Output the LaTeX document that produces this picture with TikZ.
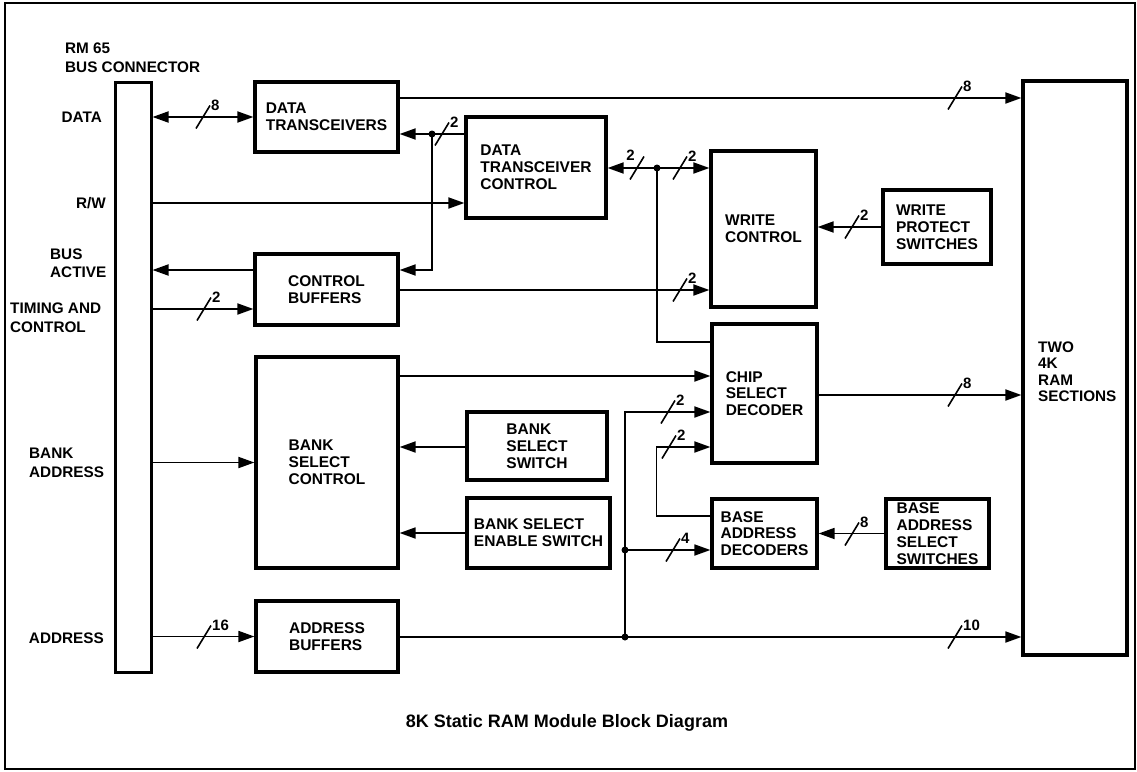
\documentclass[tikz,border=0pt]{standalone}
\usepackage{fontspec}
\setmainfont{Liberation Sans}
\usetikzlibrary{arrows.meta}
\begin{document}
\begin{tikzpicture}[x=1pt,y=-1pt,
  box/.style={draw, line width=3.2pt, inner sep=0pt, align=left,
    font=\bfseries\fontsize{15.5}{16.8}\selectfont},
  wire/.style={line width=1.8pt},
  arr/.style={wire, -{Triangle[length=16pt,width=11pt]}},
  both/.style={wire, {Triangle[length=16pt,width=11pt]}-{Triangle[length=16pt,width=11pt]}},
  lbl/.style={inner sep=0pt, align=left, font=\bfseries\fontsize{15.3}{18.5}\selectfont},
  jdot/.style={circle, fill, inner sep=0pt, minimum size=7pt},
  bw/.pic={\draw[line width=1.6pt] (-7,11.5) -- (7,-11.5);
    \node[anchor=west, inner sep=0pt, font=\bfseries\fontsize{15}{15}\selectfont] at (8,-12) {#1};},
  bwl/.pic={\draw[line width=1.6pt] (-7,11.5) -- (7,-11.5);
    \node[anchor=east, inner sep=0pt, font=\bfseries\fontsize{15}{15}\selectfont] at (-2,-13) {#1};}
]
\useasboundingbox (0,0) rectangle (1137,771);
\draw[line width=2pt] (5,3) rectangle (1135,769);

% blocks
\node[box, line width=3pt, minimum width=36pt, minimum height=590pt] (bus) at (133,377) {};
\node[box, minimum width=143pt, minimum height=70pt] (dt) at (326.5,117) {DATA\\TRANSCEIVERS};
\node[box, minimum width=140pt, minimum height=101pt] (dtc) at (536,167.5) {DATA\\TRANSCEIVER\\CONTROL};
\node[box, minimum width=105pt, minimum height=156pt] (wc) at (763.5,229) {WRITE\\CONTROL};
\node[box, minimum width=108pt, minimum height=74pt] (wps) at (937,227) {WRITE\\PROTECT\\SWITCHES};
\node[box, minimum width=143pt, minimum height=71pt] (cb) at (326.5,289.5) {CONTROL\\BUFFERS};
\node[box, minimum width=142pt, minimum height=211pt] (bsc) at (327,462.5) {BANK\\SELECT\\CONTROL};
\node[box, minimum width=140pt, minimum height=68pt] (bss) at (537,446) {BANK\\SELECT\\SWITCH};
\node[box, minimum width=143pt, minimum height=70pt] (bses) at (538.5,533) {BANK SELECT\\ENABLE SWITCH};
\node[box, minimum width=105pt, minimum height=139pt] (csd) at (764.5,393.5) {CHIP\\SELECT\\DECODER};
\node[box, minimum width=105pt, minimum height=69pt] (bad) at (764.5,533.5) {BASE\\ADDRESS\\DECODERS};
\node[box, minimum width=103pt, minimum height=69pt] (bass) at (937.5,533.5) {BASE\\ADDRESS\\SELECT\\SWITCHES};
\node[box, minimum width=142pt, minimum height=71pt] (ab) at (327,636.5) {ADDRESS\\BUFFERS};
\node[box, minimum width=104pt, minimum height=574pt] (ram) at (1075,368) {};

% labels
\node[lbl, anchor=west] (lrm) at (65,57.5) {RM 65\\BUS CONNECTOR};
\node[lbl, anchor=east] (ldata) at (102,117) {DATA};
\node[lbl, anchor=east] (lrw) at (106,203) {R/W};
\node[lbl, anchor=west] (lba) at (50,263) {BUS\\ACTIVE};
\node[lbl, anchor=west] (ltc) at (10,317.5) {TIMING AND\\CONTROL};
\node[lbl, anchor=west] (lbank) at (29,463) {BANK\\ADDRESS};
\node[lbl, anchor=east] (laddr) at (104,638) {ADDRESS};
\node[lbl, anchor=west, font=\bfseries\fontsize{15.3}{16.5}\selectfont] (lram) at (1038,371.5) {TWO\\4K\\RAM\\SECTIONS};
\node[inner sep=0pt, font=\bfseries\fontsize{18}{20}\selectfont] (title) at (567,723) {8K Static RAM Module Block Diagram};

% junctions
\coordinate (j1) at (432,134);
\coordinate (j2) at (657,168);
\coordinate (j3) at (625,637);
\coordinate (j4) at (625,550);

% connectors
\draw[both] (bus.east |- dt.west) -- (dt.west);
\pic at (203,117) {bw=8};

\draw[arr] (dtc.west |- 0,134) -- (dt.east |- 0,134);
\pic at (442,134) {bw=2};
\draw[arr] (j1) |- (cb.east |- 0,270);

\draw[arr] (bus.east |- 0,203) -- (dtc.west |- 0,203);
\draw[arr] (cb.west |- 0,270) -- (bus.east |- 0,270);
\draw[arr] (bus.east |- 0,309) -- (cb.west |- 0,309);
\pic at (204,309) {bw=2};

\draw[arr] (dt.east |- 0,98) -- (ram.west |- 0,98);
\pic at (955,98) {bw=8};

\draw[both] (dtc.east |- 0,168) -- (wc.west |- 0,168);
\pic at (637,168) {bwl=2};
\pic at (680,168) {bw=2};
\draw[wire] (j2) |- (csd.west |- 0,342);

\draw[arr] (cb.east |- 0,290) -- (wc.west |- 0,290);
\pic at (680,290) {bw=2};

\draw[arr] (wps.west) -- (wc.east |- wps.west);
\pic at (852,227) {bw=2};

\draw[arr] (bsc.east |- 0,376) -- (csd.west |- 0,376);
\draw[arr] (csd.east |- 0,395) -- (ram.west |- 0,395);
\pic at (955,395) {bw=8};

\draw[arr] (bss.west |- 0,447) -- (bsc.east |- 0,447);
\draw[arr] (bses.west) -- (bsc.east |- bses.west);
\draw[arr] (bus.east |- bsc.west) -- (bsc.west);

\draw[arr] (bus.east |- ab.west) -- (ab.west);
\pic at (204,637) {bw=16};
\draw[arr] (ab.east |- 0,637) -- (ram.west |- 0,637);
\pic at (955,637) {bw=10};

\draw[arr] (j3) |- (csd.west |- 0,412);
\pic at (668,412) {bw=2};
\draw[arr] (j4) -- (bad.west |- j4);
\pic at (673,550) {bw=4};
\draw[arr] (bad.west |- 0,516) -- ++(-54,0) |- (csd.west |- 0,447);
\pic at (669,447) {bw=2};

\draw[arr] (bass.west) -- (bad.east |- bass.west);
\pic at (852,534) {bw=8};

\node[jdot] at (j1) {};
\node[jdot] at (j2) {};
\node[jdot] at (j3) {};
\node[jdot] at (j4) {};
\end{tikzpicture}
\end{document}
